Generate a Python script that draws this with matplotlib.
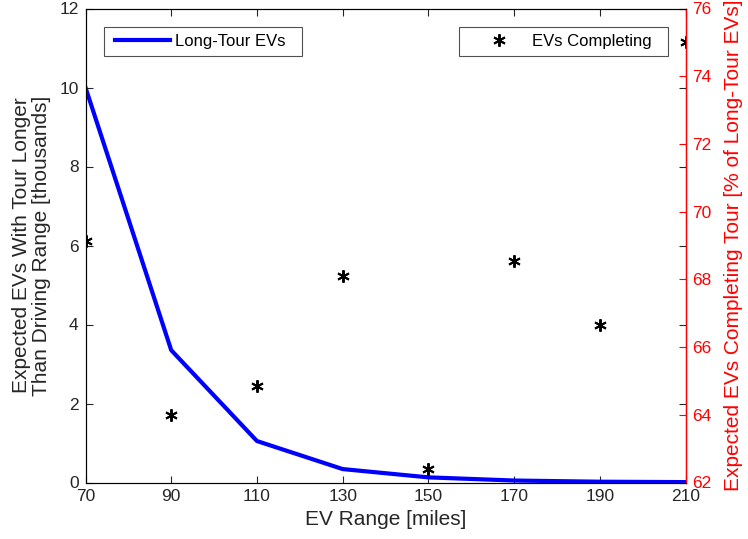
import matplotlib
matplotlib.use("Agg")
import matplotlib.pyplot as plt
from matplotlib.legend_handler import HandlerLine2D

plt.rcParams['font.family'] = ['Liberation Sans', 'DejaVu Sans']

ev_range = [70, 90, 110, 130, 150, 170, 190, 210]
long_tour = [10.0, 3.35, 1.05, 0.34, 0.13, 0.05, 0.02, 0.01]
completing = [69.13, 63.99, 64.85, 68.10, 62.40, 68.54, 66.65, 75.02]

W, H = 748, 539
L, R, T, B = 85.5, 685.5, 8.5, 482.5
fig = plt.figure(figsize=(W/100, H/100), dpi=100)
ax1 = fig.add_axes([L/W, 1 - B/H, (R-L)/W, (B-T)/H])
ax2 = ax1.twinx()

dark = '#262626'
l1, = ax1.plot(ev_range, long_tour, color='#0000ff', lw=3, label='Long-Tour EVs')
ax1.set_xlim(70, 210)
ax1.set_ylim(0, 12)
ax1.set_xticks(ev_range)
ax1.set_yticks(range(0, 13, 2))
ax1.tick_params(direction='in', labelsize=12.5, top=True, right=True, length=5, width=0.8,
                pad=5, colors=dark)
ax1.set_xlabel('EV Range [miles]', fontsize=15, color=dark, labelpad=4)
ax1.set_ylabel('Expected EVs With Tour Longer\nThan Driving Range [thousands]', fontsize=15,
               color=dark, labelpad=6, linespacing=1.05)
for sp in ['left', 'top', 'bottom']:
    ax1.spines[sp].set_color(dark)

l2, = ax2.plot(ev_range, completing, linestyle='none', marker=(6, 2, 0), ms=9, mew=1.4,
               color='black', label='EVs Completing')
ax2.set_ylim(62, 76)
ax2.set_yticks(range(62, 77, 2))
ax2.tick_params(direction='in', labelsize=12.5, colors='red', length=5, width=0.8, pad=5)
ax2.set_ylabel('Expected EVs Completing Tour [% of Long-Tour EVs]', fontsize=15, color='red', labelpad=9)
ax2.spines['right'].set_color('red')
ax2.spines['right'].set_linewidth(1.0)

fs = 12
fpx = fs * 100 / 72
aw, ah = R - L, B - T
bp = 0.42

def box(x0, x1, ytop):
    return ((x0 - L) / aw, 0.3, (x1 - x0) / aw, (B - ytop) / ah - 0.3)

leg1 = ax1.legend(handles=[l1], loc='upper left', bbox_to_anchor=box(104, 302, 27), mode='expand',
                  borderaxespad=0, fancybox=False, edgecolor=dark, fontsize=fs,
                  borderpad=bp, handlelength=(66 - bp*fpx)/fpx, handletextpad=5/fpx,
                  handler_map={l1: HandlerLine2D(xpad=(11 - bp*fpx)/fpx)})
leg1.get_frame().set_linewidth(0.8)
leg2 = ax2.legend(handles=[l2], loc='upper left', bbox_to_anchor=box(459, 668, 27), mode='expand',
                  borderaxespad=0, fancybox=False, edgecolor=dark, fontsize=fs,
                  borderpad=bp, handlelength=(68 - bp*fpx)/fpx, handletextpad=5/fpx,
                  handler_map={l2: HandlerLine2D(xpad=(12 - bp*fpx)/fpx)})
leg2.get_frame().set_linewidth(0.8)
for leg in (leg1, leg2):
    for t in leg.get_texts():
        t.set_color('black')

fig.savefig('out.png', dpi=100)
